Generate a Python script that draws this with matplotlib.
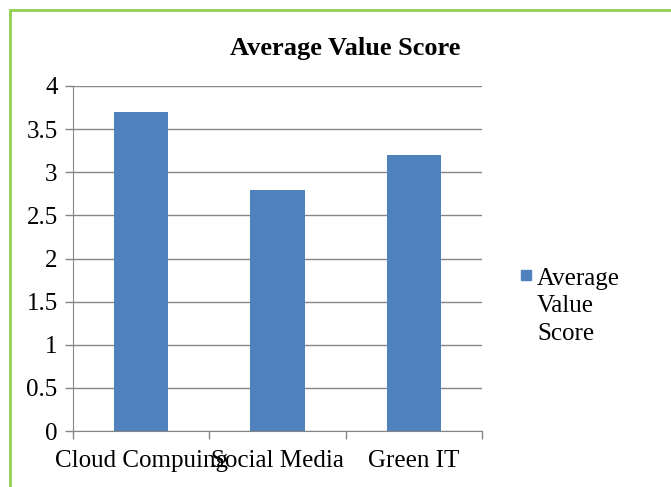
import matplotlib.pyplot as plt
import matplotlib.patches as patches
import numpy as np

categories = ['Cloud Compuing', 'Social Media', 'Green IT']
scores = [3.7, 2.8, 3.2]
series_name = 'Average Value Score'

plt.rcParams['font.family'] = 'Liberation Serif'
bar_color = '#4F81BD'
axis_gray = '#868686'

fig = plt.figure(figsize=(6.71, 4.87), dpi=100)
W, H = 671, 487
ax = fig.add_axes([73 / W, 1 - 431 / H, (482 - 73) / W, (431 - 86) / H])

# green frame (only top/left visible in the original)
fig.patches.append(patches.Rectangle((10 / W, -0.1), 1.2, 1 - 10 / H + 0.1,
                                     transform=fig.transFigure, fill=False,
                                     edgecolor='#92D050', linewidth=2))

x = np.arange(len(categories))
ax.bar(x, scores, width=0.4, color=bar_color, zorder=3, label=series_name)
ax.set_xlim(-0.5, len(categories) - 0.5)
ax.set_ylim(0, 4)
ax.set_yticks(np.arange(0, 4.01, 0.5))
ax.set_yticklabels(['0', '0.5', '1', '1.5', '2', '2.5', '3', '3.5', '4'])
ax.yaxis.grid(True, color=axis_gray, linewidth=1)
ax.set_axisbelow(True)

ax.set_xticks(np.arange(-0.5, len(categories)), minor=False)
ax.set_xticklabels([])
ax.set_xticks(x, minor=True)
ax.set_xticklabels(categories, minor=True)
ax.tick_params(axis='x', which='major', length=6, color=axis_gray, width=1)
ax.tick_params(axis='x', which='minor', length=0, labelsize=18, pad=14)
ax.tick_params(axis='y', length=6, color=axis_gray, width=1, labelsize=18, pad=5)

for side in ['top', 'right']:
    ax.spines[side].set_visible(False)
for side in ['left', 'bottom']:
    ax.spines[side].set_color(axis_gray)

fig.text(345 / W, 1 - 48 / H, series_name, ha='center', va='center',
         fontsize=19, fontweight='bold')

# legend
fig.patches.append(patches.Rectangle((521 / W, 1 - 280 / H), 10 / W, 10 / H,
                                     transform=fig.transFigure, color=bar_color))
for i, word in enumerate(['Average', 'Value', 'Score']):
    fig.text(537 / W, 1 - (279 + 27.5 * i) / H, word, ha='left', va='center',
             fontsize=18)

fig.savefig('out.png', dpi=100)
